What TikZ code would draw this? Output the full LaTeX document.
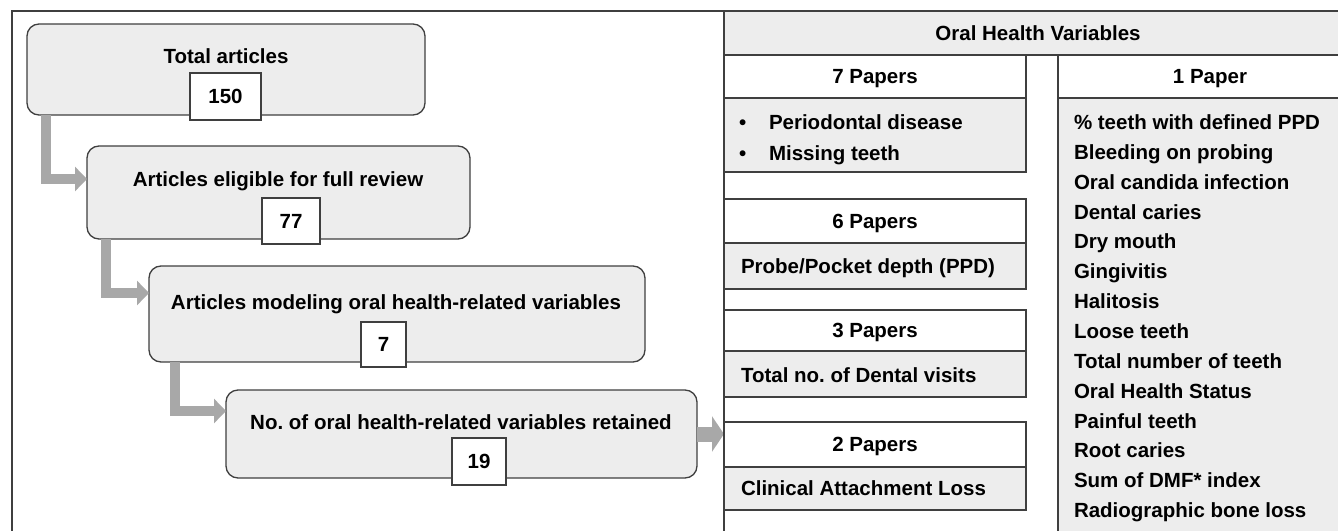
\documentclass[tikz,border=0pt]{standalone}
\usepackage{fontspec}
\setmainfont{Liberation Sans}
\usetikzlibrary{arrows.meta}

\definecolor{boxgray}{HTML}{EDEDED}
\definecolor{flowgray}{HTML}{A8A8A8}
\definecolor{edgegray}{HTML}{3F3F3F}

\tikzset{
  stage/.style={draw=edgegray, line width=1.3pt, fill=boxgray, rounded corners=12pt},
  tally/.style={draw=edgegray, line width=1.3pt, fill=white, text height=14.5pt, text depth=0pt},
  flow/.style={draw=flowgray, line width=10pt, -{Triangle[length=12pt,width=24pt]}},
  headcell/.style={draw=edgegray, line width=1.3pt, fill=white, anchor=north west, text height=14.5pt, text depth=0pt},
  bodycell/.style={draw=edgegray, line width=1.3pt, fill=boxgray, anchor=north west}
}

\begin{document}
\begin{tikzpicture}[x=1pt,y=-1pt]
  \tikzstyle{every node}+=[inner sep=0pt, outer sep=0pt, font=\bfseries\fontsize{20.5}{24}\selectfont]
  \useasboundingbox (0,0) rectangle (1338,530);
  \clip (0,0) rectangle (1338,530);
  \draw [edgegray, line width=1.3pt] (12,11) rectangle (1400,600);
  % flow chart
  \node [stage, minimum width=398pt, minimum height=91pt] (total) at (226,69.5) {};
  \node [anchor=base] (totaltext) at (226,63) {Total articles};
  \node [tally, minimum width=71pt, minimum height=47pt] (n150) at (225.5,96.5) {150};
  \node [stage, minimum width=383pt, minimum height=93pt] (eligible) at (278.5,192.5) {};
  \node [anchor=base] (eligibletext) at (278,186) {Articles eligible for full review};
  \node [tally, minimum width=58pt, minimum height=46pt] (n77) at (291,221) {77};
  \node [stage, minimum width=496pt, minimum height=96pt] (modeling) at (397,314) {};
  \node [anchor=base] (modelingtext) at (396,309) {Articles modeling oral health-related variables};
  \node [tally, minimum width=45pt, minimum height=45pt] (n7) at (383.5,344.5) {7};
  \node [stage, minimum width=471pt, minimum height=88pt] (retained) at (461.5,434) {};
  \node [anchor=base] (retainedtext) at (461,429) {No.\ of oral health-related variables retained};
  \node [tally, minimum width=54pt, minimum height=47pt] (n19) at (479,461.5) {19};
  \coordinate (tableedge) at (724,434);
  \draw [flow] ([xshift=19pt]total.south west) |- ([yshift=13.5pt]eligible.west);
  \draw [flow] ([xshift=19pt]eligible.south west) |- ([yshift=21pt]modeling.west);
  \draw [flow] ([xshift=26pt]modeling.south west) |- ([yshift=23pt]retained.west);
  \draw [flow, line width=15pt, -{Triangle[length=12pt,width=35pt]}] (retained.east) -- (tableedge);
  % table
  \draw [edgegray, line width=1.3pt] (724,11) -- (724,600);
  \node [bodycell, minimum width=628pt, minimum height=44pt, text height=14.5pt, text depth=0pt] (ohv) at (724,11) {Oral Health Variables};
  \node [headcell, minimum width=302pt, minimum height=43pt] (seven) at (724,55) {7 Papers};
  \node [bodycell, minimum width=302pt, minimum height=74pt] (sevenbody) at (724,98) {};
  \node [anchor=base west] (perio) at (739,129) {\makebox[30pt][l]{\textbullet}Periodontal disease};
  \node [anchor=base west] (missing) at (739,160) {\makebox[30pt][l]{\textbullet}Missing teeth};
  \node [headcell, minimum width=302pt, minimum height=44pt] (six) at (724,199) {6 Papers};
  \node [bodycell, minimum width=302pt, minimum height=46pt] (sixbody) at (724,243) {};
  \node [anchor=base west] (ppd) at (741,273) {Probe/Pocket depth (PPD)};
  \node [headcell, minimum width=302pt, minimum height=41pt] (three) at (724,310) {3 Papers};
  \node [bodycell, minimum width=302pt, minimum height=46pt] (threebody) at (724,351) {};
  \node [anchor=base west] (visits) at (741,382) {Total no.\ of Dental visits};
  \node [headcell, minimum width=302pt, minimum height=45pt] (two) at (724,422) {2 Papers};
  \node [bodycell, minimum width=302pt, minimum height=43pt] (twobody) at (724,467) {};
  \node [anchor=base west] (cal) at (741,495) {Clinical Attachment Loss};
  \draw [edgegray, line width=2.6pt] (two.south west) -- (two.south east);
  \node [headcell, minimum width=304pt, minimum height=43pt] (one) at (1058,55) {1 Paper};
  \node [bodycell, minimum width=304pt, minimum height=500pt] (onebody) at (1058,98) {};
  \draw [edgegray, line width=2.6pt] (one.south west) -- (one.south east);
  \node [anchor=base west] (pctppd) at (1074,129) {\% teeth with defined PPD};
  \node [anchor=base west] (bleeding) at (1074,159) {Bleeding on probing};
  \node [anchor=base west] (candida) at (1074,189) {Oral candida infection};
  \node [anchor=base west] (caries) at (1074,219) {Dental caries};
  \node [anchor=base west] (drymouth) at (1074,248) {Dry mouth};
  \node [anchor=base west] (gingivitis) at (1074,278) {Gingivitis};
  \node [anchor=base west] (halitosis) at (1074,308) {Halitosis};
  \node [anchor=base west] (loose) at (1074,338) {Loose teeth};
  \node [anchor=base west] (teethno) at (1074,368) {Total number of teeth};
  \node [anchor=base west] (status) at (1074,398) {Oral Health Status};
  \node [anchor=base west] (painful) at (1074,428) {Painful teeth};
  \node [anchor=base west] (rootcaries) at (1074,457) {Root caries};
  \node [anchor=base west] (dmf) at (1074,487) {Sum of DMF* index};
  \node [anchor=base west] (radio) at (1074,517) {Radiographic bone loss};
\end{tikzpicture}
\end{document}
